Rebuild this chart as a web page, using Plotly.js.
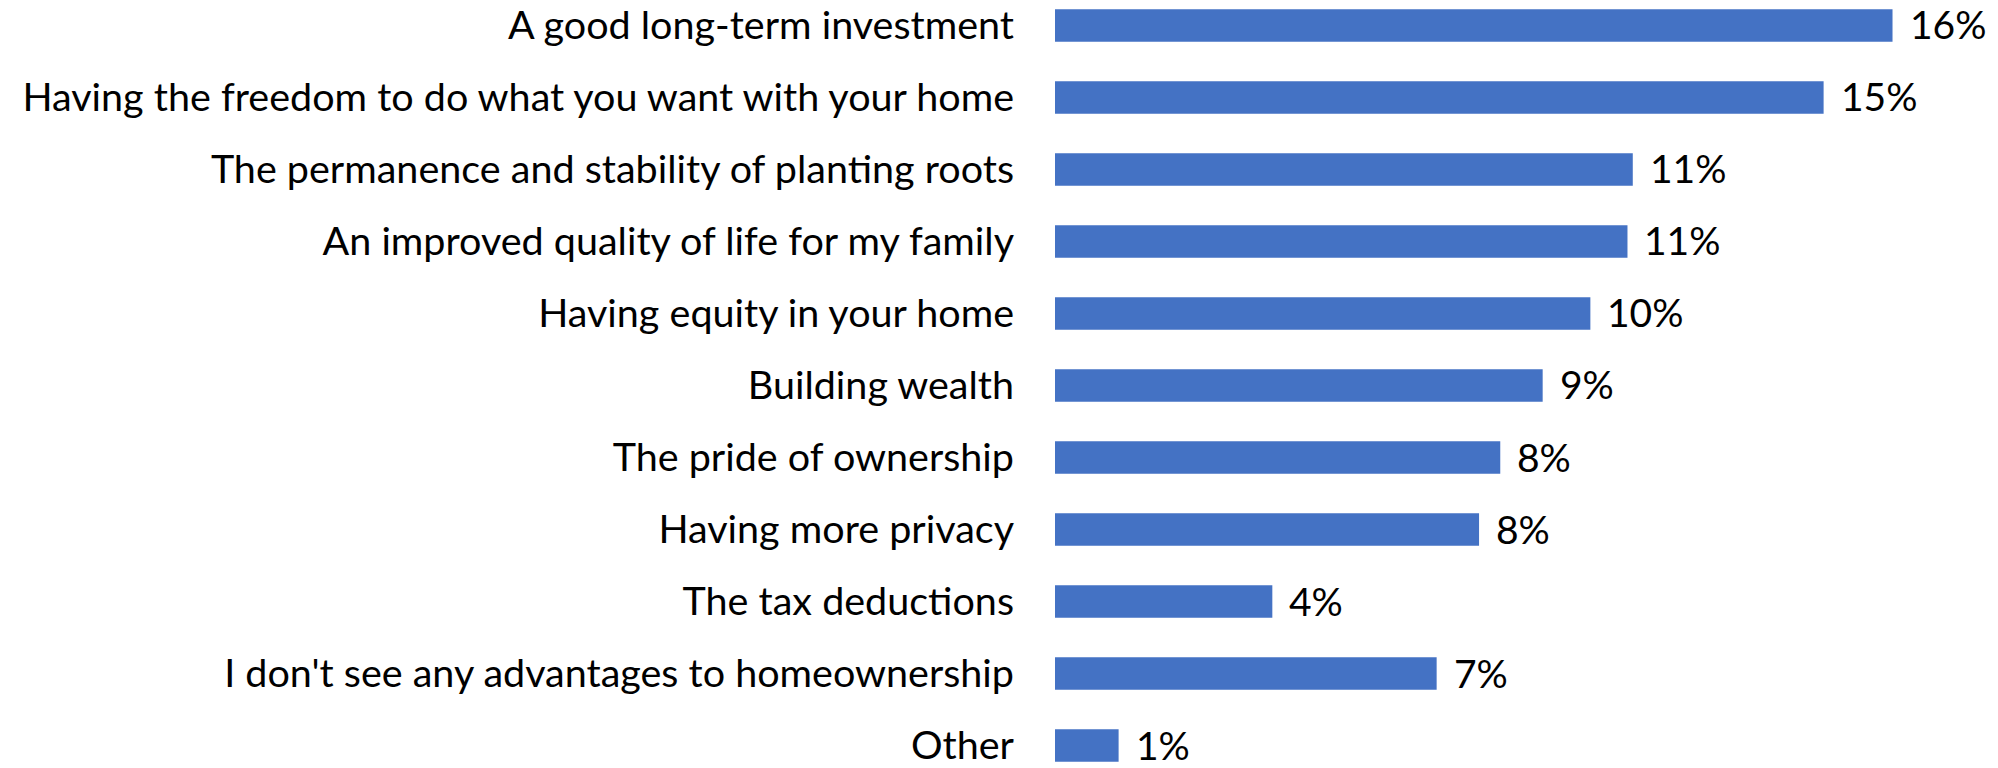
<!DOCTYPE html>
<html>
<head>
<meta charset="utf-8">
<script src="https://cdn.plot.ly/plotly-3.0.1.min.js"></script>
<style>html,body{margin:0;padding:0;background:#fff;}#chart{width:1998px;height:768px;}</style>
</head>
<body>
<div id="chart"></div>
<script>
const categories = [
  "A good long-term investment",
  "Having the freedom to do what you want with your home",
  "The permanence and stability of planting roots",
  "An improved quality of life for my family",
  "Having equity in your home",
  "Building wealth",
  "The pride of ownership",
  "Having more privacy",
  "The tax deductions",
  "I don't see any advantages to homeownership",
  "Other"
];
const values = [15.8, 14.5, 10.9, 10.8, 10.1, 9.2, 8.4, 8.0, 4.1, 7.2, 1.2];
const valueLabels = ["16%", "15%", "11%", "11%", "10%", "9%", "8%", "8%", "4%", "7%", "1%"];

const FONT = "Lato, 'Open Sans', sans-serif";

const trace = {
  type: "bar",
  orientation: "h",
  x: values,
  y: categories,
  marker: { color: "#4472C4", line: { width: 0 } },
  width: 0.453,
  hoverinfo: "x+y"
};

const annotations = categories.map((c, i) => ({
  x: values[i],
  y: c,
  xref: "x",
  yref: "y",
  text: valueLabels[i],
  showarrow: false,
  xanchor: "left",
  yanchor: "middle",
  xshift: 16,
  yshift: 1,
  borderpad: 0,
  font: { family: FONT, size: 39, color: "#000000" }
}));

const layout = {
  width: 1998,
  height: 768,
  margin: { l: 1055, r: 0, t: 0, b: 0, pad: 0 },
  paper_bgcolor: "#ffffff",
  plot_bgcolor: "#ffffff",
  showlegend: false,
  bargap: 0.547,
  xaxis: {
    range: [0, 17.79],
    showgrid: false,
    zeroline: false,
    showticklabels: false,
    showline: false,
    ticks: ""
  },
  yaxis: {
    type: "category",
    categoryorder: "array",
    categoryarray: categories,
    range: [10.3125, -0.354],
    showgrid: false,
    zeroline: false,
    showline: false,
    ticks: "",
    ticklabelstandoff: 40,
    tickfont: { family: FONT, size: 39.5, color: "#000000" },
    automargin: false
  },
  annotations: annotations
};

Plotly.newPlot("chart", [trace], layout, { displayModeBar: false, staticPlot: true });
</script>
</body>
</html>
